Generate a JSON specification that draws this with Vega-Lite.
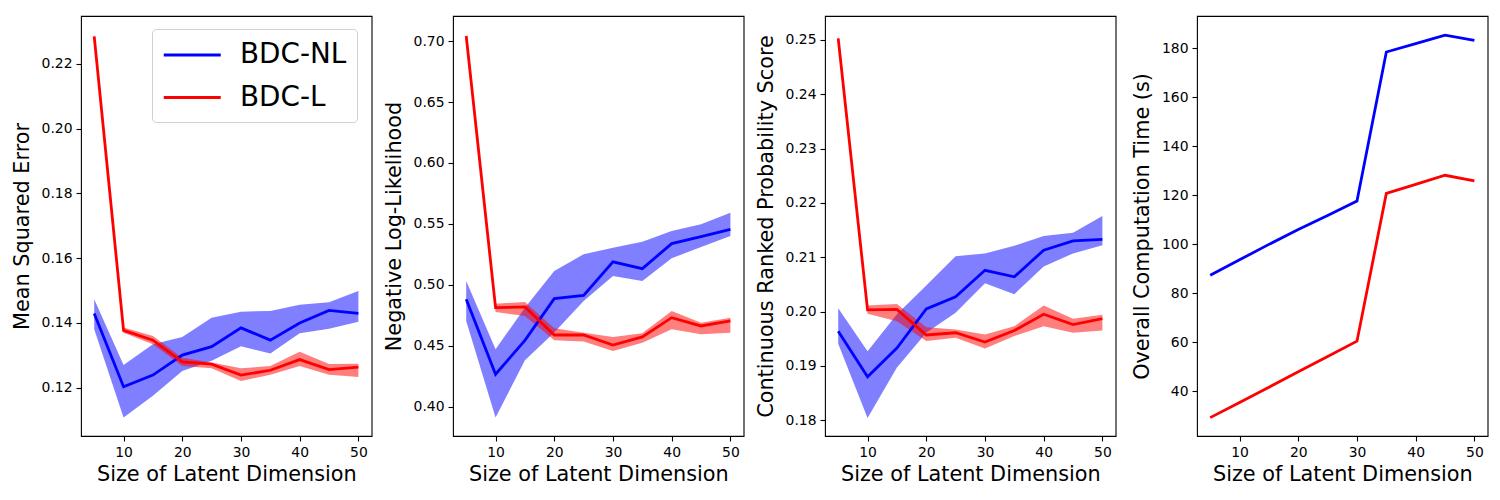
{
 "$schema": "https://vega.github.io/schema/vega-lite/v6.json",
 "padding": {"left": 10, "top": 15, "right": 5, "bottom": 5},
 "background": "white",
 "bounds": "flush",
 "spacing": 81,
 "resolve": {"legend": {"color": "independent"}},
 "config": {
  "view": {"stroke": "black", "strokeWidth": 1.1},
  "font": "DejaVu Sans",
  "axis": {"domain": false, "grid": false, "ticks": true, "tickColor": "black", "tickSize": 5, "tickWidth": 1.1, "labelColor": "black", "labelFont": "DejaVu Sans", "labelFontSize": 13.9, "labelPadding": 4, "titleFont": "DejaVu Sans", "titleFontSize": 20.8, "titleFontWeight": "normal", "titleColor": "black"},
  "axisY": {"titlePadding": 9},
  "axisX": {"titlePadding": 6, "labelFlush": false}
 },
 "datasets": {
  "d": [
   {"m":"MSE","model":"BDC-NL","x":5,"y":0.1429,"lo":0.1381,"hi":0.1473},
   {"m":"MSE","model":"BDC-NL","x":10,"y":0.1203,"lo":0.1108,"hi":0.1270},
   {"m":"MSE","model":"BDC-NL","x":15,"y":0.1239,"lo":0.1175,"hi":0.1334},
   {"m":"MSE","model":"BDC-NL","x":20,"y":0.1301,"lo":0.1252,"hi":0.1357},
   {"m":"MSE","model":"BDC-NL","x":25,"y":0.1327,"lo":0.1283,"hi":0.1416},
   {"m":"MSE","model":"BDC-NL","x":30,"y":0.1385,"lo":0.1328,"hi":0.1435},
   {"m":"MSE","model":"BDC-NL","x":35,"y":0.1347,"lo":0.1306,"hi":0.1437},
   {"m":"MSE","model":"BDC-NL","x":40,"y":0.1400,"lo":0.1368,"hi":0.1456},
   {"m":"MSE","model":"BDC-NL","x":45,"y":0.1439,"lo":0.1382,"hi":0.1464},
   {"m":"MSE","model":"BDC-NL","x":50,"y":0.1430,"lo":0.1404,"hi":0.1499},
   {"m":"MSE","model":"BDC-L","x":5,"y":0.2285,"lo":0.2277,"hi":0.2293},
   {"m":"MSE","model":"BDC-L","x":10,"y":0.1377,"lo":0.1370,"hi":0.1386},
   {"m":"MSE","model":"BDC-L","x":15,"y":0.1347,"lo":0.1334,"hi":0.1360},
   {"m":"MSE","model":"BDC-L","x":20,"y":0.1280,"lo":0.1267,"hi":0.1293},
   {"m":"MSE","model":"BDC-L","x":25,"y":0.1273,"lo":0.1260,"hi":0.1278},
   {"m":"MSE","model":"BDC-L","x":30,"y":0.1239,"lo":0.1221,"hi":0.1260},
   {"m":"MSE","model":"BDC-L","x":35,"y":0.1254,"lo":0.1240,"hi":0.1267},
   {"m":"MSE","model":"BDC-L","x":40,"y":0.1287,"lo":0.1267,"hi":0.1311},
   {"m":"MSE","model":"BDC-L","x":45,"y":0.1256,"lo":0.1240,"hi":0.1273},
   {"m":"MSE","model":"BDC-L","x":50,"y":0.1264,"lo":0.1233,"hi":0.1274},

   {"m":"NLL","model":"BDC-NL","x":5,"y":0.4883,"lo":0.4705,"hi":0.5033},
   {"m":"NLL","model":"BDC-NL","x":10,"y":0.4268,"lo":0.3913,"hi":0.4473},
   {"m":"NLL","model":"BDC-NL","x":15,"y":0.4546,"lo":0.4383,"hi":0.4814},
   {"m":"NLL","model":"BDC-NL","x":20,"y":0.4888,"lo":0.4610,"hi":0.5115},
   {"m":"NLL","model":"BDC-NL","x":25,"y":0.4915,"lo":0.4869,"hi":0.5251},
   {"m":"NLL","model":"BDC-NL","x":30,"y":0.5189,"lo":0.5074,"hi":0.5306},
   {"m":"NLL","model":"BDC-NL","x":35,"y":0.5134,"lo":0.5033,"hi":0.5355},
   {"m":"NLL","model":"BDC-NL","x":40,"y":0.5339,"lo":0.5219,"hi":0.5443},
   {"m":"NLL","model":"BDC-NL","x":45,"y":0.5396,"lo":0.5311,"hi":0.5497},
   {"m":"NLL","model":"BDC-NL","x":50,"y":0.5456,"lo":0.5402,"hi":0.5593},
   {"m":"NLL","model":"BDC-L","x":5,"y":0.7041,"lo":0.7025,"hi":0.7057},
   {"m":"NLL","model":"BDC-L","x":10,"y":0.4814,"lo":0.4779,"hi":0.4847},
   {"m":"NLL","model":"BDC-L","x":15,"y":0.4820,"lo":0.4746,"hi":0.4861},
   {"m":"NLL","model":"BDC-L","x":20,"y":0.4590,"lo":0.4546,"hi":0.4645},
   {"m":"NLL","model":"BDC-L","x":25,"y":0.4590,"lo":0.4536,"hi":0.4609},
   {"m":"NLL","model":"BDC-L","x":30,"y":0.4508,"lo":0.4459,"hi":0.4574},
   {"m":"NLL","model":"BDC-L","x":35,"y":0.4574,"lo":0.4527,"hi":0.4604},
   {"m":"NLL","model":"BDC-L","x":40,"y":0.4732,"lo":0.4637,"hi":0.4787},
   {"m":"NLL","model":"BDC-L","x":45,"y":0.4664,"lo":0.4596,"hi":0.4691},
   {"m":"NLL","model":"BDC-L","x":50,"y":0.4705,"lo":0.4609,"hi":0.4732},

   {"m":"CRPS","model":"BDC-NL","x":5,"y":0.1964,"lo":0.1941,"hi":0.2006},
   {"m":"CRPS","model":"BDC-NL","x":10,"y":0.1880,"lo":0.1804,"hi":0.1927},
   {"m":"CRPS","model":"BDC-NL","x":15,"y":0.1933,"lo":0.1897,"hi":0.1995},
   {"m":"CRPS","model":"BDC-NL","x":20,"y":0.2005,"lo":0.1961,"hi":0.2048},
   {"m":"CRPS","model":"BDC-NL","x":25,"y":0.2027,"lo":0.1998,"hi":0.2102},
   {"m":"CRPS","model":"BDC-NL","x":30,"y":0.2076,"lo":0.2052,"hi":0.2107},
   {"m":"CRPS","model":"BDC-NL","x":35,"y":0.2064,"lo":0.2032,"hi":0.2121},
   {"m":"CRPS","model":"BDC-NL","x":40,"y":0.2113,"lo":0.2083,"hi":0.2139},
   {"m":"CRPS","model":"BDC-NL","x":45,"y":0.2130,"lo":0.2107,"hi":0.2145},
   {"m":"CRPS","model":"BDC-NL","x":50,"y":0.2133,"lo":0.2122,"hi":0.2176},
   {"m":"CRPS","model":"BDC-L","x":5,"y":0.2503,"lo":0.2498,"hi":0.2508},
   {"m":"CRPS","model":"BDC-L","x":10,"y":0.2003,"lo":0.1996,"hi":0.2011},
   {"m":"CRPS","model":"BDC-L","x":15,"y":0.2004,"lo":0.1982,"hi":0.2014},
   {"m":"CRPS","model":"BDC-L","x":20,"y":0.1957,"lo":0.1946,"hi":0.1971},
   {"m":"CRPS","model":"BDC-L","x":25,"y":0.1961,"lo":0.1952,"hi":0.1967},
   {"m":"CRPS","model":"BDC-L","x":30,"y":0.1944,"lo":0.1932,"hi":0.1958},
   {"m":"CRPS","model":"BDC-L","x":35,"y":0.1965,"lo":0.1955,"hi":0.1973},
   {"m":"CRPS","model":"BDC-L","x":40,"y":0.1995,"lo":0.1973,"hi":0.2011},
   {"m":"CRPS","model":"BDC-L","x":45,"y":0.1976,"lo":0.1961,"hi":0.1987},
   {"m":"CRPS","model":"BDC-L","x":50,"y":0.1987,"lo":0.1965,"hi":0.1994},

   {"m":"TIME","model":"BDC-NL","x":5,"y":87.4},
   {"m":"TIME","model":"BDC-NL","x":10,"y":93.7},
   {"m":"TIME","model":"BDC-NL","x":15,"y":100.0},
   {"m":"TIME","model":"BDC-NL","x":20,"y":106.1},
   {"m":"TIME","model":"BDC-NL","x":25,"y":111.8},
   {"m":"TIME","model":"BDC-NL","x":30,"y":117.7},
   {"m":"TIME","model":"BDC-NL","x":35,"y":178.5},
   {"m":"TIME","model":"BDC-NL","x":40,"y":181.9},
   {"m":"TIME","model":"BDC-NL","x":45,"y":185.4},
   {"m":"TIME","model":"BDC-NL","x":50,"y":183.3},
   {"m":"TIME","model":"BDC-L","x":5,"y":29.3},
   {"m":"TIME","model":"BDC-L","x":10,"y":35.5},
   {"m":"TIME","model":"BDC-L","x":15,"y":41.7},
   {"m":"TIME","model":"BDC-L","x":20,"y":48.0},
   {"m":"TIME","model":"BDC-L","x":25,"y":54.2},
   {"m":"TIME","model":"BDC-L","x":30,"y":60.5},
   {"m":"TIME","model":"BDC-L","x":35,"y":120.8},
   {"m":"TIME","model":"BDC-L","x":40,"y":124.5},
   {"m":"TIME","model":"BDC-L","x":45,"y":128.2},
   {"m":"TIME","model":"BDC-L","x":50,"y":125.9}
  ]
 },
 "hconcat": [
  {
   "width": 290.6, "height": 420,
   "data": {"name": "d"},
   "transform": [{"filter": "datum.m === 'MSE'"}],
   "layer": [
    {"mark": {"type": "area", "opacity": 0.5},
     "encoding": {
      "x": {"field": "x", "type": "quantitative", "scale": {"domain": [2.75, 52.25], "nice": false, "zero": false}, "axis": {"values": [10, 20, 30, 40, 50]}, "title": "Size of Latent Dimension"},
      "y": {"field": "lo", "type": "quantitative", "scale": {"domain": [0.1051, 0.2348], "nice": false, "zero": false}, "axis": {"values": [0.12, 0.14, 0.16, 0.18, 0.20, 0.22], "format": ".2f"}, "title": "Mean Squared Error"},
      "y2": {"field": "hi"},
      "fill": {"field": "model", "type": "nominal", "scale": {"domain": ["BDC-NL", "BDC-L"], "range": ["#0000ff", "#ff0000"]}, "legend": null}
     }},
    {"mark": {"type": "line", "strokeWidth": 2.8},
     "encoding": {
      "x": {"field": "x", "type": "quantitative", "title": "Size of Latent Dimension"},
      "y": {"field": "y", "type": "quantitative", "title": "Mean Squared Error"},
      "color": {"field": "model", "type": "nominal", "scale": {"domain": ["BDC-NL", "BDC-L"], "range": ["#0000ff", "#ff0000"]},
       "legend": {"orient": "none", "legendX": 71, "legendY": 13, "title": null, "symbolType": "M-1,0H3", "symbolSize": 812, "symbolStrokeWidth": 2.8, "labelFontSize": 27.8, "labelFont": "DejaVu Sans", "labelColor": "black", "labelOffset": 46, "rowPadding": 12.5, "padding": 10, "cornerRadius": 4, "strokeColor": "#d0d0d0", "fillColor": "white", "labelLimit": 0}}
     }}
   ]
  },
  {
   "width": 290.6, "height": 420,
   "data": {"name": "d"},
   "transform": [{"filter": "datum.m === 'NLL'"}],
   "layer": [
    {"mark": {"type": "area", "opacity": 0.5},
     "encoding": {
      "x": {"field": "x", "type": "quantitative", "scale": {"domain": [2.75, 52.25], "nice": false, "zero": false}, "axis": {"values": [10, 20, 30, 40, 50]}, "title": "Size of Latent Dimension"},
      "y": {"field": "lo", "type": "quantitative", "scale": {"domain": [0.3762, 0.7205], "nice": false, "zero": false}, "axis": {"values": [0.40, 0.45, 0.50, 0.55, 0.60, 0.65, 0.70], "format": ".2f"}, "title": "Negative Log-Likelihood"},
      "y2": {"field": "hi"},
      "fill": {"field": "model", "type": "nominal", "scale": {"domain": ["BDC-NL", "BDC-L"], "range": ["#0000ff", "#ff0000"]}, "legend": null}
     }},
    {"mark": {"type": "line", "strokeWidth": 2.8},
     "encoding": {
      "x": {"field": "x", "type": "quantitative", "title": "Size of Latent Dimension"},
      "y": {"field": "y", "type": "quantitative", "title": "Negative Log-Likelihood"},
      "color": {"field": "model", "type": "nominal", "scale": {"domain": ["BDC-NL", "BDC-L"], "range": ["#0000ff", "#ff0000"]}, "legend": null}
     }}
   ]
  },
  {
   "width": 290.6, "height": 420,
   "data": {"name": "d"},
   "transform": [{"filter": "datum.m === 'CRPS'"}],
   "layer": [
    {"mark": {"type": "area", "opacity": 0.5},
     "encoding": {
      "x": {"field": "x", "type": "quantitative", "scale": {"domain": [2.75, 52.25], "nice": false, "zero": false}, "axis": {"values": [10, 20, 30, 40, 50]}, "title": "Size of Latent Dimension"},
      "y": {"field": "lo", "type": "quantitative", "scale": {"domain": [0.1771, 0.2544], "nice": false, "zero": false}, "axis": {"values": [0.18, 0.19, 0.20, 0.21, 0.22, 0.23, 0.24, 0.25], "format": ".2f"}, "title": "Continuous Ranked Probability Score"},
      "y2": {"field": "hi"},
      "fill": {"field": "model", "type": "nominal", "scale": {"domain": ["BDC-NL", "BDC-L"], "range": ["#0000ff", "#ff0000"]}, "legend": null}
     }},
    {"mark": {"type": "line", "strokeWidth": 2.8},
     "encoding": {
      "x": {"field": "x", "type": "quantitative", "title": "Size of Latent Dimension"},
      "y": {"field": "y", "type": "quantitative", "title": "Continuous Ranked Probability Score"},
      "color": {"field": "model", "type": "nominal", "scale": {"domain": ["BDC-NL", "BDC-L"], "range": ["#0000ff", "#ff0000"]}, "legend": null}
     }}
   ]
  },
  {
   "width": 290.6, "height": 420,
   "data": {"name": "d"},
   "transform": [{"filter": "datum.m === 'TIME'"}],
   "mark": {"type": "line", "strokeWidth": 2.8},
   "encoding": {
    "x": {"field": "x", "type": "quantitative", "scale": {"domain": [2.75, 52.25], "nice": false, "zero": false}, "axis": {"values": [10, 20, 30, 40, 50]}, "title": "Size of Latent Dimension"},
    "y": {"field": "y", "type": "quantitative", "scale": {"domain": [21.8, 193.2], "nice": false, "zero": false}, "axis": {"values": [40, 60, 80, 100, 120, 140, 160, 180], "format": "d"}, "title": "Overall Computation Time (s)"},
    "color": {"field": "model", "type": "nominal", "scale": {"domain": ["BDC-NL", "BDC-L"], "range": ["#0000ff", "#ff0000"]}, "legend": null}
   }
  }
 ]
}
